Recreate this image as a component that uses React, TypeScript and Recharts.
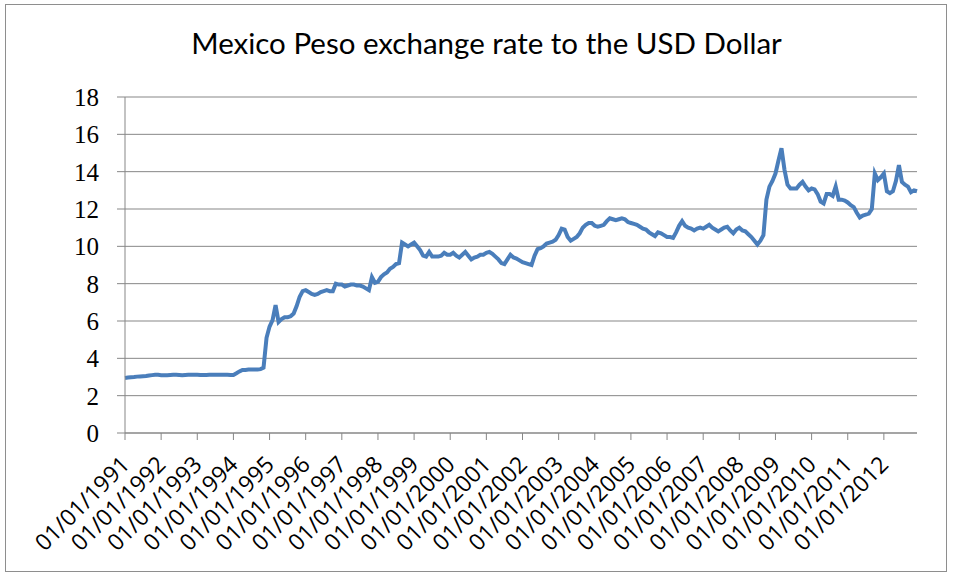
import { LineChart, Line, XAxis, YAxis, CartesianGrid } from 'recharts';

// monthly MXN per USD (Jan of each year first)
const rates1991to1995 = [
  2.95, 2.97, 2.99, 3.0, 3.02, 3.03, 3.04, 3.05, 3.08, 3.1, 3.12, 3.12,
  3.1, 3.1, 3.1, 3.11, 3.12, 3.12, 3.11, 3.1, 3.11, 3.12, 3.12, 3.12,
  3.12, 3.11, 3.11, 3.11, 3.12, 3.12, 3.12, 3.12, 3.12, 3.12, 3.12, 3.11,
  3.11, 3.2, 3.3, 3.38, 3.38, 3.4, 3.4, 3.4, 3.4, 3.42, 3.5, 5.1,
  5.7, 6.05, 6.85, 5.95, 6.1, 6.2, 6.2, 6.25, 6.4, 6.8, 7.3, 7.6,
];
const rates1996to2000 = [
  7.65, 7.55, 7.45, 7.4, 7.45, 7.55, 7.6, 7.65, 7.6, 7.6, 8.0, 7.95,
  7.95, 7.85, 7.9, 7.95, 7.95, 7.9, 7.9, 7.85, 7.75, 7.65, 8.35, 8.05,
  8.1, 8.35, 8.5, 8.6, 8.8, 8.9, 9.05, 9.1, 10.2, 10.1, 10.0, 10.1,
  10.2, 10.0, 9.8, 9.5, 9.45, 9.7, 9.45, 9.45, 9.45, 9.5, 9.65, 9.55,
  9.55, 9.65, 9.5, 9.4, 9.55, 9.7, 9.5, 9.3, 9.4, 9.45, 9.55, 9.55,
];
const rates2001to2005 = [
  9.65, 9.7, 9.6, 9.45, 9.3, 9.1, 9.05, 9.3, 9.55, 9.4, 9.35, 9.25,
  9.15, 9.1, 9.05, 9.0, 9.5, 9.85, 9.9, 10.0, 10.15, 10.2, 10.25, 10.35,
  10.6, 10.95, 10.9, 10.5, 10.3, 10.4, 10.5, 10.7, 11.0, 11.15, 11.25, 11.25,
  11.1, 11.05, 11.1, 11.15, 11.35, 11.5, 11.45, 11.4, 11.45, 11.5, 11.45, 11.3,
  11.25, 11.2, 11.15, 11.05, 10.95, 10.9, 10.75, 10.65, 10.55, 10.75, 10.7, 10.6,
];
const rates2006to2009 = [
  10.5, 10.5, 10.45, 10.75, 11.1, 11.35, 11.1, 11.0, 10.95, 10.85, 10.95, 11.0,
  10.95, 11.05, 11.15, 11.0, 10.9, 10.8, 10.9, 11.0, 11.05, 10.85, 10.7, 10.9,
  11.0, 10.85, 10.8, 10.65, 10.5, 10.3, 10.1, 10.3, 10.6, 12.5, 13.2, 13.5,
  13.9, 14.6, 15.25, 14.1, 13.3, 13.1, 13.1, 13.1, 13.3, 13.45, 13.2, 13.0,
];
const rates2010to2012 = [
  13.1, 13.05, 12.8, 12.4, 12.3, 12.8, 12.8, 12.7, 13.2, 12.5, 12.5, 12.45,
  12.35, 12.2, 12.1, 11.8, 11.55, 11.65, 11.7, 11.75, 12.0, 13.9, 13.55, 13.7,
  13.9, 12.95, 12.85, 12.95, 13.5, 14.35, 13.45, 13.3, 13.2, 12.9, 13.0, 12.95,
];

const years = [
  1991, 1992, 1993, 1994, 1995, 1996, 1997, 1998, 1999, 2000, 2001,
  2002, 2003, 2004, 2005, 2006, 2007, 2008, 2009, 2010, 2011, 2012,
];
const monthCodes = ['01', '02', '03', '04', '05', '06', '07', '08', '09', '10', '11', '12'];
const yTicks = [0, 2, 4, 6, 8, 10, 12, 14, 16, 18];

const rates = [
  ...rates1991to1995, ...rates1996to2000, ...rates2001to2005,
  ...rates2006to2009, ...rates2010to2012,
];
const dates = years.flatMap((y) => monthCodes.map((m) => `01/${m}/${y}`));
const data = dates.map((date, i) => ({ date, rate: rates[i] }));

const XTick = ({ x, y, payload }: any) => {
  const ax = x + 6;
  const ay = y + 24;
  return (
    <text
      x={ax}
      y={ay}
      transform={`rotate(-45, ${ax}, ${ay})`}
      textAnchor="end"
      fontSize={23}
      fontFamily="'Open Sans', sans-serif"
      fill="#000"
    >
      {payload.value}
    </text>
  );
};

export default function App() {
  return (
    <div style={{ position: 'absolute', left: 0, top: 0, width: 955, height: 578, background: '#fff' }}>
      <div
        style={{
          position: 'absolute', left: 5, top: 4, width: 942, height: 568,
          border: '1px solid #8e8e8e', boxSizing: 'border-box',
        }}
      />
      <div
        style={{
          position: 'absolute', left: 0, top: 25, width: 973, textAlign: 'center',
          fontFamily: 'Lato, sans-serif', fontSize: 29.5, color: '#000',
        }}
      >
        Mexico Peso exchange rate to the USD Dollar
      </div>
      <div style={{ position: 'absolute', left: 0, top: 0 }}>
        <LineChart width={955} height={578} data={data} margin={{ top: 97, right: 38, left: 0, bottom: 0 }}>
          <CartesianGrid vertical={false} stroke="#878787" strokeWidth={1} />
          <XAxis
            dataKey="date"
            interval={11}
            height={145}
            tick={<XTick />}
            tickSize={7}
            stroke="#878787"
            tickLine={{ stroke: '#878787' }}
          />
          <YAxis
            domain={[0, 18]}
            ticks={yTicks}
            width={125}
            tickSize={8}
            tickMargin={18}
            stroke="#878787"
            tick={{ fontSize: 25, fill: '#000', fontFamily: "'Liberation Serif', serif" }}
          />
          <Line
            type="linear"
            dataKey="rate"
            stroke="#4A7EBB"
            strokeWidth={4}
            dot={false}
            isAnimationActive={false}
          />
        </LineChart>
      </div>
    </div>
  );
}
